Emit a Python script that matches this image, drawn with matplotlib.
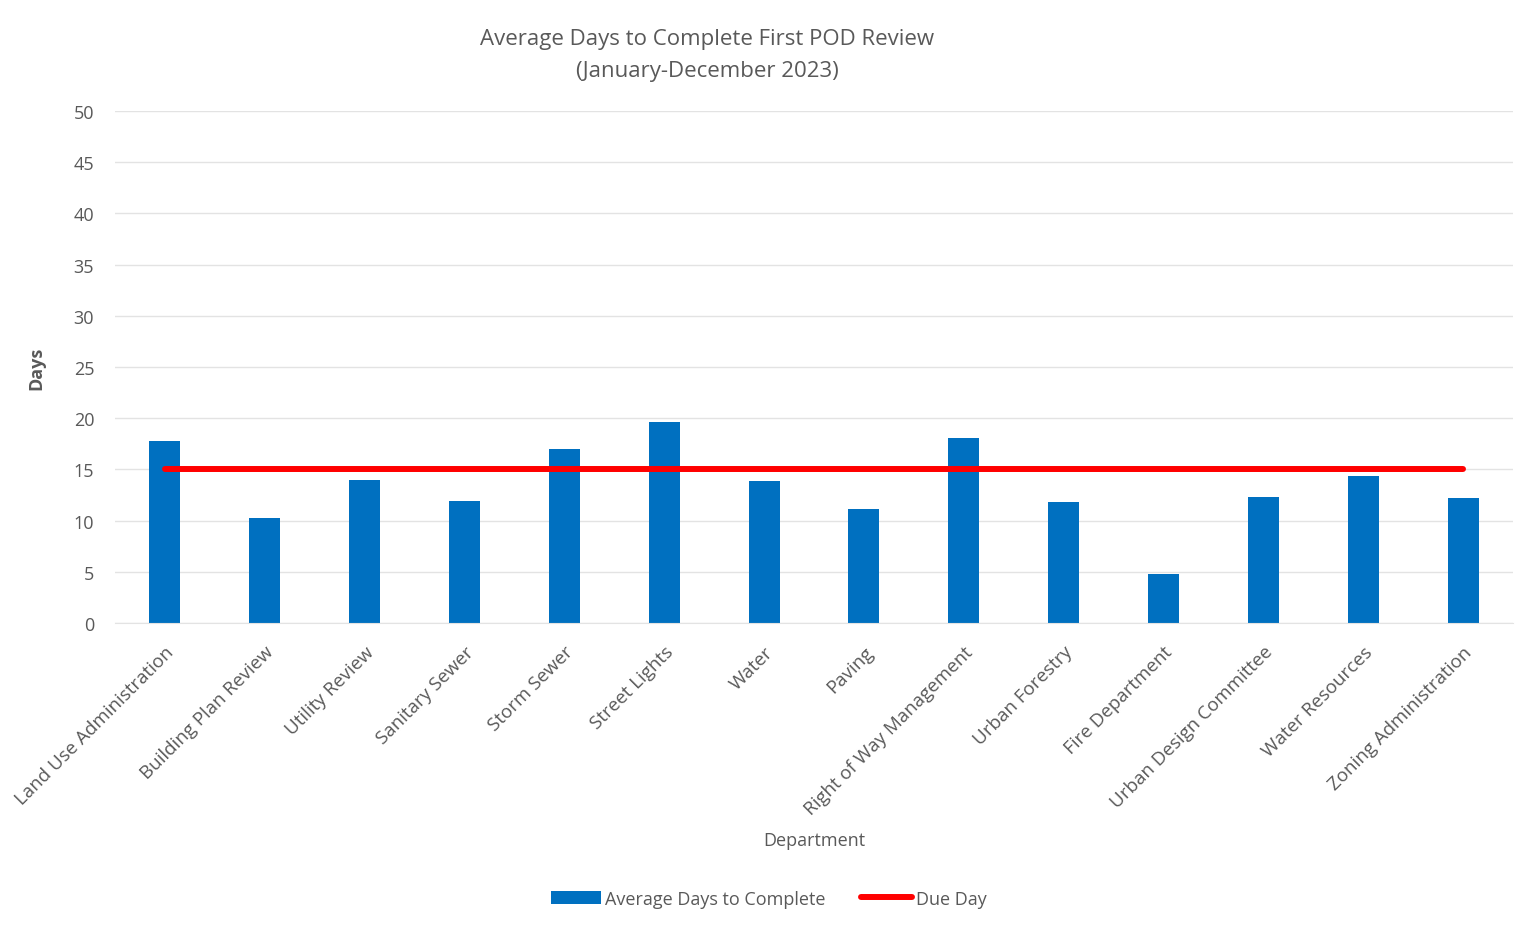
import matplotlib.pyplot as plt
import numpy as np

departments = [
    "Land Use Administration", "Building Plan Review", "Utility Review",
    "Sanitary Sewer", "Storm Sewer", "Street Lights", "Water", "Paving",
    "Right of Way Management", "Urban Forestry", "Fire Department",
    "Urban Design Committee", "Water Resources", "Zoning Administration",
]
avg_days = [17.8, 10.3, 14.0, 11.9, 17.0, 19.6, 13.9, 11.1, 18.1, 11.8, 4.8, 12.3, 14.4, 12.2]
due_day = [15] * len(departments)

plt.rcParams["font.family"] = ["Open Sans", "DejaVu Sans"]
text_color = "#595959"

fig = plt.figure(figsize=(15.37, 9.37), dpi=100)
ax = fig.add_axes([0.0748, 0.334, 0.9096, 0.5465])

x = np.arange(len(departments))
bars = ax.bar(x, avg_days, width=0.31, color="#0070C0", label="Average Days to Complete", zorder=2)
line, = ax.plot(x, due_day, color="#FF0000", linewidth=4.3, solid_capstyle="round",
                label="Due Day", zorder=3)

ax.set_xlim(-0.5, len(departments) - 0.5)
ax.set_ylim(0, 50)
ax.set_yticks(range(0, 51, 5))
ax.grid(axis="y", color="#E3E3E3", linewidth=1, zorder=0)
ax.set_axisbelow(True)
for side in ["top", "right", "left"]:
    ax.spines[side].set_visible(False)
ax.spines["bottom"].set_color("#E3E3E3")
ax.tick_params(axis="both", length=0, labelsize=13, colors=text_color)
ax.tick_params(axis="y", pad=15)

ax.set_xticks(x)
ax.set_xticklabels(departments, rotation=45, ha="right", rotation_mode="anchor", fontsize=13.5)
ax.tick_params(axis="x", pad=14)

ax.set_ylabel("Days", fontsize=13, fontweight="bold", color=text_color, labelpad=20)
fig.text(0.5297, 0.102, "Department", ha="center", va="center", fontsize=13, color=text_color)

fig.text(0.46, 0.958, "Average Days to Complete First POD Review", ha="center", va="center",
         fontsize=16, color=text_color)
fig.text(0.46, 0.924, "(January-December 2023)", ha="center", va="center",
         fontsize=16, color=text_color)

fig.legend(handles=[bars, line], loc="center", bbox_to_anchor=(0.500, 0.040), ncol=2,
           frameon=False, fontsize=13, labelcolor=text_color, handlelength=2.8,
           handletextpad=0.2, columnspacing=2.0)

plt.savefig("out.png", dpi=100)
